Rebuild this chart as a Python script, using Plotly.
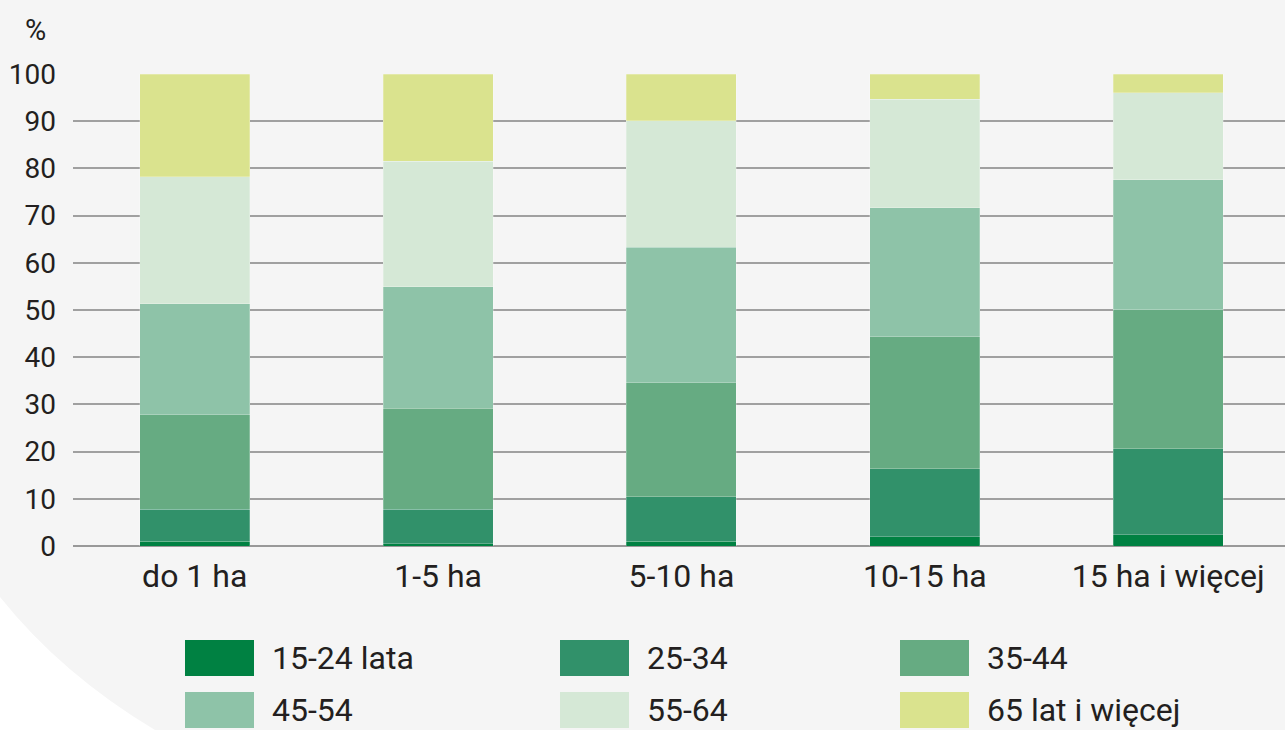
import plotly.graph_objects as go

categories = ["do 1 ha", "1-5 ha", "5-10 ha", "10-15 ha", "15 ha i więcej"]
series_names = ["15-24 lata", "25-34", "35-44", "45-54", "55-64", "65 lat i więcej"]
v_15_24 = [1.0, 0.5, 1.0, 2.0, 2.4]
v_25_34 = [6.8, 7.3, 9.4, 14.4, 18.2]
v_35_44 = [20.0, 21.4, 24.2, 27.9, 29.5]
v_45_54 = [23.5, 25.7, 28.7, 27.4, 27.5]
v_55_64 = [26.9, 26.6, 26.8, 22.9, 18.4]
v_65 = [21.8, 18.5, 9.9, 5.4, 4.0]
y_ticks = [0, 10, 20, 30, 40, 50, 60, 70, 80, 90, 100]

series_values = [v_15_24, v_25_34, v_35_44, v_45_54, v_55_64, v_65]
colors = ["#008142", "#31916A", "#66AB82", "#8EC3A8", "#D5E8D6", "#DAE38E"]

W, H = 1285, 730
L, R, T, B = 73, 0, 74, 184
PW = W - L - R
PH = H - T - B
FONT = "Roboto, 'Noto Sans', sans-serif"
TXT = "#231f20"


def px(x):
    return (x - L) / PW


def py(y):
    return (H - B - y) / PH


fig = go.Figure()
for name, vals, col in zip(series_names, series_values, colors):
    fig.add_trace(go.Bar(
        x=categories, y=vals, name=name,
        marker=dict(color=col, line=dict(width=0.8, color="rgba(255,255,255,0.3)")),
        showlegend=False,
    ))

shapes = []
annotations = []

# white corner (background shape)
p0 = (0, 597)
c = (61.5, 674)
p1 = (155, 730)
path = (f"M {px(p0[0])},{py(p0[1])} Q {px(c[0])},{py(c[1])} {px(p1[0])},{py(p1[1])} "
        f"L {px(p1[0])},{py(740)} L {px(-5)},{py(740)} L {px(-5)},{py(p0[1])} Z")
shapes.append(dict(type="path", xref="paper", yref="paper", path=path,
                   fillcolor="white", line=dict(width=0), layer="below"))

# manual legend
col_x = [185, 560, 900]
row_y = [640, 692]
sw_w, sw_h = 69, 36
for i, (name, col) in enumerate(zip(series_names, colors)):
    r, cidx = divmod(i, 3)
    x0 = col_x[cidx]
    y0 = row_y[r]
    shapes.append(dict(type="rect", xref="paper", yref="paper",
                       x0=px(x0), x1=px(x0 + sw_w), y0=py(y0 + sw_h), y1=py(y0),
                       fillcolor=col, line=dict(width=0), layer="above"))
    annotations.append(dict(xref="paper", yref="paper", x=px(x0 + sw_w + 16), y=py(y0 + sw_h / 2),
                            text=name, showarrow=False, xanchor="left", yanchor="middle",
                            font=dict(family=FONT, size=32, color=TXT)))

annotations.append(dict(xref="paper", yref="paper", x=px(35), y=py(30), text="%",
                        showarrow=False, xanchor="center", yanchor="middle",
                        font=dict(family=FONT, size=29, color=TXT)))

fig.update_layout(
    width=W, height=H,
    margin=dict(l=L, r=R, t=T, b=B, pad=0),
    barmode="stack",
    bargap=0.548,
    paper_bgcolor="#f5f5f5",
    plot_bgcolor="rgba(0,0,0,0)",
    font=dict(family=FONT, size=28, color=TXT),
    shapes=shapes,
    annotations=annotations,
    showlegend=False,
)
fig.update_xaxes(range=[-0.5, 4.48], showgrid=False, showline=False, zeroline=False,
                 ticks="", tickfont=dict(family=FONT, size=32, color=TXT),
                 ticklabelstandoff=8, fixedrange=True)
fig.update_yaxes(range=[0, 100], tickvals=y_ticks, showgrid=True, gridcolor="#a0a0a0",
                 gridwidth=1.8, zeroline=True, zerolinecolor="#999999", zerolinewidth=2,
                 showline=False, ticks="", tickfont=dict(family=FONT, size=28, color=TXT),
                 ticklabelstandoff=16, fixedrange=True)

fig.write_html("out.html", config={"displayModeBar": False},
               post_script="document.body.style.margin='0px';document.body.style.overflow='hidden';")
